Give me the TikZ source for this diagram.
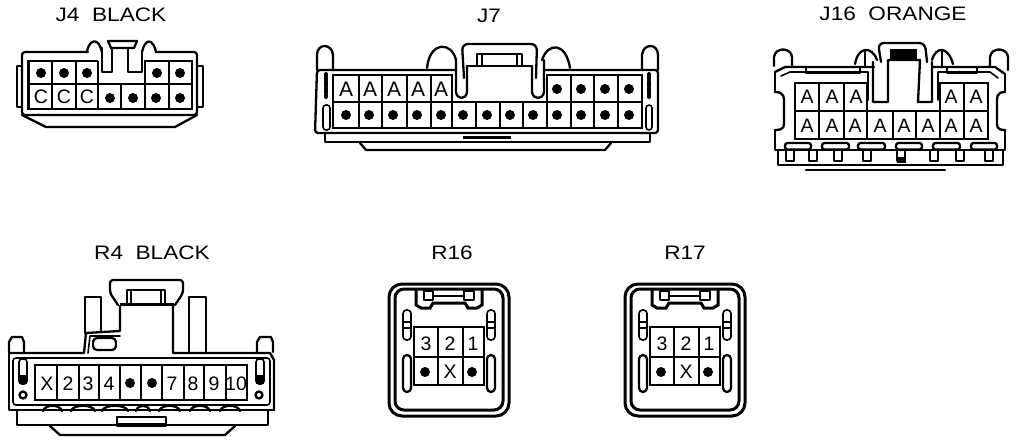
\documentclass[tikz,border=0pt]{standalone}
\usepackage{fontspec}
\setmainfont{Liberation Sans}
\tikzset{
  x=1pt,y=-1pt,
  ol/.style={line width=2.3pt,line join=round,line cap=round,black},
  thin ol/.style={line width=1.6pt,line join=round,line cap=round,black},
  gridl/.style={line width=2.2pt,black},
  heavy/.style={line width=3pt,black},
  title/.style={inner sep=0pt,font=\fontsize{19.5}{19.5}\selectfont,xscale=1.16},
  pinl/.style={inner sep=0pt,font=\fontsize{19.5}{19.5}\selectfont},
  bigpin/.style={inner sep=0pt,font=\fontsize{21}{21}\selectfont},
  pind/.style={circle,fill=black,inner sep=0pt,minimum size=10pt},
}
\begin{document}
\begin{tikzpicture}
\useasboundingbox (0,0) rectangle (1024,444);
\fill[white] (0,0) rectangle (1024,444);
% ---------- titles
\node[title] (tJ4) at (111,15) {J4\ \ BLACK};
\node[title] (tJ7) at (489,16) {J7};
\node[title] (tJ16) at (893,14) {J16\ \ ORANGE};
\node[title] (tR4) at (152,253) {R4\ \ BLACK};
\node[title] (tR16) at (452,253) {R16};
\node[title] (tR17) at (685,253) {R17};
% ---------- J4
\draw[ol,rounded corners=3pt] (88,52) -- (22,52) -- (22,115) -- (197,115) -- (197,52) -- (156,52);
\draw[ol] (22,115) -- (46,127) -- (175,127) -- (197,115);
\draw[thin ol] (17,66) -- (22,66) (17,66) -- (17,107) -- (22,107);
\draw[thin ol] (197,66) -- (203,66) -- (203,107) -- (197,107);
\draw[ol] (87,51) .. controls (90,38) and (99,38) .. (102,52);
\draw[ol] (142,52) .. controls (145,38) and (153,38) .. (156,52);
\draw[ol] (108,41) -- (137,41) -- (134,48) -- (111,48) -- cycle;
\draw[ol] (112,48) -- (112,72) -- (102,72) -- (102,48);
\draw[ol] (128,48) -- (128,72) -- (142,72) -- (142,52);
\draw[gridl] (98,61) -- (28.5,61) -- (28.5,109) -- (192,109) -- (192,61) -- (145,61) -- (145,84) -- (98,84) -- (98,61);
\draw[gridl] (28.5,84) -- (192,84);
\foreach \x in {52,76,98,121,145,169} \draw[gridl] (\x,84) -- (\x,109);
\foreach \x in {52,76,169} \draw[gridl] (\x,61) -- (\x,84);
\foreach \x [count=\i] in {41,64,87,157,180} \node[pind] (ja\i) at (\x,73) {};
\foreach \x [count=\i] in {41,64,87} \node[pinl] (jb\i) at (\x,97) {C};
\foreach \x [count=\i] in {110,133,156,180} \node[pind] (jc\i) at (\x,98) {};
% ---------- J7
\draw[ol,rounded corners=3pt] (455,70) -- (317,70) -- (315,133) -- (658,133) -- (658,70) -- (545,70);
\draw[ol] (317,70) -- (317,55) .. controls (317,43) and (332,43) .. (333,55) -- (333,70);
\draw[ol] (642,70) -- (642,55) .. controls (643,43) and (658,43) .. (658,55) -- (658,70);
\draw[ol] (427,68) .. controls (430,40) and (452,42) .. (456,60);
\draw[ol] (542,60) .. controls (548,42) and (566,42) .. (570,68);
\draw[ol,rounded corners=6pt] (464,78) -- (462,44) -- (537,44) -- (536,78);
\draw[ol] (456,60) -- (456,92) .. controls (457,100) and (466,100) .. (467,92) -- (467,66);
\draw[ol] (532,66) -- (532,92) .. controls (533,100) and (543,100) .. (544,92) -- (544,60);
\draw[ol] (477,54) -- (522,54) -- (522,66) -- (477,66) -- cycle;
\draw[thin ol] (482,54) -- (482,66) (517,54) -- (517,66);
\draw[ol] (467,66) -- (532,66);
\draw[gridl] (333,75) -- (452,75) -- (452,102) -- (547,102) -- (547,75) -- (642,75) -- (642,128) -- (333,128) -- cycle;
\draw[gridl] (333,102) -- (452,102) (547,102) -- (642,102);
\foreach \x in {359,382,407,431,476,500,523,571,594,618,452,547} \draw[gridl] (\x,102) -- (\x,128);
\foreach \x in {359,382,407,431,571,594,618} \draw[gridl] (\x,75) -- (\x,102);
\foreach \x [count=\i] in {346,370,394,418,441} \node[bigpin] (ka\i) at (\x,89) {A};
\foreach \x [count=\i] in {557,581,605,629} \node[pind] (kb\i) at (\x,89) {};
\foreach \x [count=\i] in {346,369,393,417,441,463,487,510,533,557,581,605,629} \node[pind] (kc\i) at (\x,115) {};
\draw[ol,line width=4pt,dash pattern=on 5pt off 2pt] (326,74) -- (326,97);
\draw[ol,line width=4pt,dash pattern=on 5pt off 2pt] (649,74) -- (649,97);
\draw[thin ol,rounded corners=3pt] (323,105) rectangle (330,130);
\draw[thin ol,rounded corners=3pt] (646,105) rectangle (652,130);
\draw[ol] (325,134) -- (325,142) -- (650,142) -- (650,134);
\draw[ol] (360,143) -- (366,150) -- (605,150) -- (611,143);
\draw[heavy] (463,137) -- (511,137);
% ---------- J16
\draw[ol] (775,72) -- (785,67) -- (874,67);
\draw[ol] (933,67) -- (995,67) -- (1005,74);
\draw[thin ol] (781,76) -- (790,72) -- (868,72) -- (868,100);
\draw[thin ol] (938,100) -- (938,72) -- (990,72) -- (998,78);
\draw[ol] (775,72) -- (775,92) (775,130) -- (775,150) -- (1005,150) -- (1005,130) (1005,92) -- (1005,74);
\draw[ol] (775,92) .. controls (785,92) and (784,98) .. (784,104) -- (784,120) .. controls (784,126) and (785,130) .. (775,130);
\draw[ol] (1005,92) .. controls (996,92) and (997,98) .. (997,104) -- (997,120) .. controls (997,126) and (996,130) .. (1005,130);
\draw[ol] (774,66) -- (774,57) .. controls (775,47) and (791,47) .. (792,57) -- (792,66);
\draw[ol] (990,66) -- (990,57) .. controls (991,47) and (1007,47) .. (1008,57) -- (1008,70);
\draw[ol] (806,67) -- (806,73) -- (860,73) -- (860,67);
\draw[ol] (947,67) -- (947,73) -- (977,73) -- (977,67);
\draw[ol] (855,64) .. controls (858,46) and (872,46) .. (877,60);
\draw[ol] (932,60) .. controls (936,46) and (948,46) .. (953,64);
\draw[thin ol] (865,51) -- (865,67) (942,51) -- (942,67);
\draw[ol,rounded corners=6pt] (881,62) -- (878,43) -- (925,43) -- (927,62);
\draw[black,fill=black] (890,49) rectangle (916,58);
\draw[ol] (873,62) -- (873,102) -- (888,102) -- (888,60) -- (920,60) -- (918,102) -- (932,102) -- (932,62);
\draw[gridl] (795,83) -- (867,83) -- (867,111) -- (940,111) -- (940,83) -- (988,83) -- (988,139) -- (795,139) -- cycle;
\draw[gridl] (795,111) -- (867,111) (940,111) -- (988,111);
\foreach \x in {819,844,867,893,916,940,964} \draw[gridl] (\x,111) -- (\x,139);
\foreach \x in {819,844,964} \draw[gridl] (\x,83) -- (\x,111);
\foreach \x [count=\i] in {807,832,856,951,976} \node[pinl] (la\i) at (\x,97) {A};
\foreach \x [count=\i] in {807,832,855,880,904,928,951,976} \node[pinl] (lb\i) at (\x,126) {A};
\foreach \a/\b in {785/811,822/849,858/885,896/922,933/960,971/997}
  \draw[ol,rounded corners=2.5pt] (\a,143) rectangle (\b,149.5);
\foreach \a in {786,809,834,863,897,930,956,985}
  \draw[ol] (\a,151) -- (\a,161) -- (\a+8,161) -- (\a+8,151);
\fill[black] (897,157) rectangle (906,163);
\draw[ol] (778,150) -- (778,165) -- (1003,165) -- (1003,150);
\draw[ol] (806,170) -- (945,170);
% ---------- R4
\draw[ol] (9,353) -- (84,353) -- (86,333) -- (120,331) -- (120,306);
\draw[thin ol] (88,353) -- (90,336) -- (120,336);
\draw[ol] (173,306) -- (173,353) -- (270,353) -- (274,360) -- (274,410);
\draw[ol] (9,353) -- (9,410) -- (274,410);
\draw[thin ol,rounded corners=3pt] (13,358) rectangle (270,405);
\draw[ol] (9,352) -- (9,342) -- (12,337) -- (22,337) -- (24,342) -- (24,352);
\draw[ol] (257,352) -- (257,342) -- (260,337) -- (271,337) -- (273,342) -- (273,352);
\draw[ol] (85,333) -- (85,297) -- (101,297) -- (101,331);
\draw[ol] (189,353) -- (189,297) -- (206,297) -- (206,353);
\draw[ol,rounded corners=4pt] (93,338) rectangle (116,350);
\draw[ol,rounded corners=3pt] (118,305) -- (110,293) -- (110,280) -- (183,280) -- (183,293) -- (175,305);
\draw[ol] (127,305) -- (127,290) -- (165,290) -- (165,305);
\draw[thin ol] (131,290) -- (131,303) (161,290) -- (161,303);
\draw[heavy] (120,304) -- (174,304);
\draw[gridl] (35,365) rectangle (247,400);
\foreach \x in {57,79,99,120,141,162,184,204,226} \draw[gridl] (\x,365) -- (\x,400);
\foreach \x/\t [count=\i] in {47/X,68/2,88/3,109/4,172/7,193/8,214/9,236/10}
  \node[pinl] (ma\i) at (\x,384) {\t};
\node[pind] (mb1) at (130,383) {};
\node[pind] (mb2) at (152,383) {};
\draw[thin ol,rounded corners=3pt] (19,359) rectangle (27,384);
\fill[black] (19,375) rectangle (27,384);
\draw[thin ol,rounded corners=3pt] (256,359) rectangle (264,384);
\fill[black] (256,375) rectangle (264,384);
\draw[ol] (23,395) circle (3.5);
\draw[ol] (259,395) circle (3.5);
\foreach \a/\b in {43/62,71/95,102/128,136/150,159/180,190/210,220/240}
  \draw[ol] (\a,411) .. controls (\a+2,404) and (\b-2,404) .. (\b,411);
\draw[ol] (17,411) -- (17,425) -- (268,425) -- (268,411);
\draw[ol] (117,417) rectangle (166,426);
\draw[heavy] (117,424) -- (166,424);
\draw[ol] (50,426) -- (60,435) -- (225,435) -- (235,426);
% ---------- R16 and R17
\foreach \o/\n in {0/p,236/q}{
\begin{scope}[xshift=\o pt]
\draw[heavy,rounded corners=13pt] (389,284) rectangle (509,416);
\draw[heavy,rounded corners=9pt] (395,289) rectangle (503,410);
\draw[heavy] (416,289) -- (416,305) -- (421,308) -- (430,308) -- (433,303) -- (465,303) -- (468,308) -- (477,308) -- (482,305) -- (482,289);
\draw[ol] (424,291) -- (424,300) -- (433,300) -- (433,291) -- cycle;
\draw[ol] (464,291) -- (474,291) -- (474,300) -- (464,300) -- cycle;
\draw[ol] (433,296) -- (464,296);
\draw[thin ol,rounded corners=3.5pt] (403,310) rectangle (411,340);
\draw[thin ol] (403,322) -- (411,322) (403,328) -- (411,328);
\draw[thin ol,rounded corners=3.5pt] (487,310) rectangle (495,340);
\draw[thin ol] (487,322) -- (495,322) (487,328) -- (495,328);
\draw[ol,rounded corners=4pt] (403,355) rectangle (411,392);
\draw[ol,rounded corners=4pt] (487,355) rectangle (495,392);
\draw[gridl] (414,327) rectangle (484,385);
\draw[gridl] (414,357) -- (484,357) (438,327) -- (438,385) (463,327) -- (463,385);
\node[pinl] (\n1) at (426,344) {3};
\node[pinl] (\n2) at (450,344) {2};
\node[pinl] (\n3) at (473,344) {1};
\node[pind] (\n4) at (425,372) {};
\node[pinl] (\n5) at (450,372) {X};
\node[pind] (\n6) at (472,372) {};
\end{scope}}
\end{tikzpicture}
\end{document}
